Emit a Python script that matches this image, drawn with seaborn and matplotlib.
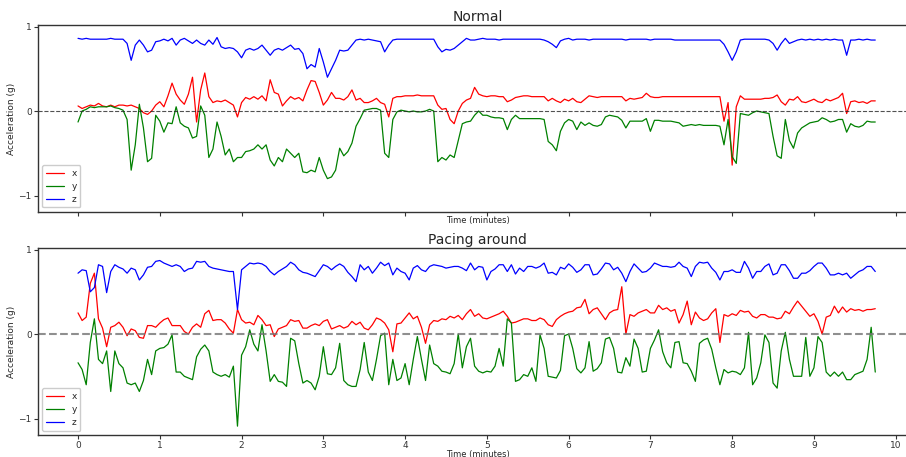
import numpy as np
import pandas as pd
import matplotlib
matplotlib.use("Agg")
import matplotlib.pyplot as plt
import seaborn as sns

# Sample times in minutes (one reading every 3 seconds)
time_min = np.round(np.arange(196) * 0.05, 2)

# ---- "Normal" session ----
x_normal = [
    0.06, 0.03, 0.05, 0.07, 0.06, 0.09, 0.06, 0.05, 0.07, 0.05,
    0.07, 0.07, 0.06, 0.07, 0.05, 0.03, -0.02, -0.04, 0.00, 0.07,
    0.11, 0.05, 0.18, 0.33, 0.20, 0.13, 0.08, 0.20, 0.40, -0.13,
    0.25, 0.45, 0.17, 0.10, 0.12, 0.11, 0.13, 0.10, 0.07, -0.07,
    0.10, 0.16, 0.14, 0.17, 0.14, 0.18, 0.12, 0.37, 0.22, 0.20,
    0.06, 0.12, 0.17, 0.14, 0.16, 0.12, 0.25, 0.36, 0.35, 0.22,
    0.07, 0.13, 0.22, 0.15, 0.15, 0.13, 0.17, 0.25, 0.13, 0.15,
    0.10, 0.10, 0.12, 0.15, 0.10, 0.08, -0.07, 0.15, 0.17, 0.17,
    0.18, 0.18, 0.18, 0.19, 0.18, 0.18, 0.18, 0.18, 0.07, 0.02,
    0.03, -0.10, -0.15, 0.00, 0.09, 0.13, 0.15, 0.28, 0.20, 0.18,
    0.17, 0.18, 0.18, 0.17, 0.17, 0.11, 0.13, 0.16, 0.17, 0.18,
    0.18, 0.17, 0.17, 0.17, 0.17, 0.12, 0.15, 0.12, 0.10, 0.14,
    0.12, 0.15, 0.11, 0.10, 0.14, 0.18, 0.17, 0.16, 0.17, 0.17,
    0.17, 0.17, 0.17, 0.17, 0.12, 0.15, 0.14, 0.15, 0.16, 0.21,
    0.17, 0.16, 0.16, 0.17, 0.17, 0.17, 0.17, 0.17, 0.17, 0.17,
    0.17, 0.17, 0.17, 0.17, 0.17, 0.17, 0.17, 0.17, -0.12, 0.10,
    -0.64, 0.05, 0.18, 0.14, 0.14, 0.14, 0.14, 0.14, 0.15, 0.15,
    0.16, 0.19, 0.11, 0.07, 0.14, 0.13, 0.17, 0.11, 0.10, 0.12,
    0.14, 0.11, 0.10, 0.14, 0.12, 0.14, 0.16, 0.21, -0.03, 0.11,
    0.12, 0.10, 0.11, 0.09, 0.12, 0.12,
]
y_normal = [
    -0.13, 0.00, 0.02, 0.05, 0.04, 0.05, 0.05, 0.05, 0.06, 0.04,
    0.03, 0.01, -0.10, -0.70, -0.40, 0.08, -0.20, -0.60, -0.56, -0.05,
    -0.12, -0.25, -0.14, -0.15, 0.05, -0.14, -0.18, -0.20, -0.32, -0.30,
    0.06, -0.05, -0.55, -0.45, -0.13, -0.30, -0.52, -0.45, -0.60, -0.55,
    -0.55, -0.48, -0.47, -0.45, -0.40, -0.45, -0.40, -0.58, -0.65, -0.55,
    -0.60, -0.45, -0.50, -0.55, -0.50, -0.72, -0.73, -0.70, -0.72, -0.55,
    -0.70, -0.80, -0.78, -0.70, -0.44, -0.53, -0.48, -0.38, -0.18, -0.09,
    0.01, 0.02, 0.03, 0.03, 0.01, -0.50, -0.55, -0.10, -0.01, 0.01,
    0.00, -0.01, 0.00, -0.01, -0.01, 0.00, 0.02, 0.00, -0.60, -0.55,
    -0.58, -0.52, -0.55, -0.35, -0.15, -0.13, -0.12, -0.05, 0.00, -0.05,
    -0.05, -0.07, -0.08, -0.08, -0.09, -0.22, -0.10, -0.05, -0.09, -0.09,
    -0.09, -0.09, -0.09, -0.09, -0.10, -0.36, -0.40, -0.47, -0.24, -0.14,
    -0.10, -0.12, -0.22, -0.13, -0.17, -0.14, -0.17, -0.18, -0.16, -0.07,
    -0.05, -0.06, -0.07, -0.11, -0.20, -0.12, -0.12, -0.12, -0.12, -0.09,
    -0.24, -0.11, -0.11, -0.12, -0.12, -0.12, -0.13, -0.14, -0.18, -0.17,
    -0.16, -0.17, -0.16, -0.17, -0.17, -0.17, -0.17, -0.18, -0.40, -0.10,
    -0.54, -0.62, -0.03, -0.04, -0.05, -0.02, 0.00, -0.01, -0.02, -0.03,
    -0.30, -0.53, -0.56, -0.10, -0.35, -0.44, -0.26, -0.20, -0.17, -0.14,
    -0.13, -0.12, -0.08, -0.10, -0.13, -0.12, -0.10, -0.10, -0.25, -0.15,
    -0.18, -0.19, -0.17, -0.12, -0.13, -0.13,
]
z_normal = [
    0.86, 0.85, 0.86, 0.85, 0.85, 0.85, 0.85, 0.85, 0.86, 0.85,
    0.85, 0.85, 0.80, 0.60, 0.78, 0.84, 0.78, 0.70, 0.72, 0.82,
    0.83, 0.85, 0.83, 0.86, 0.78, 0.84, 0.86, 0.83, 0.80, 0.84,
    0.80, 0.78, 0.84, 0.79, 0.87, 0.76, 0.74, 0.75, 0.74, 0.70,
    0.63, 0.72, 0.74, 0.72, 0.74, 0.78, 0.72, 0.66, 0.72, 0.74,
    0.72, 0.75, 0.78, 0.73, 0.74, 0.68, 0.50, 0.55, 0.52, 0.74,
    0.58, 0.40, 0.50, 0.60, 0.72, 0.71, 0.72, 0.78, 0.84, 0.85,
    0.84, 0.85, 0.84, 0.83, 0.82, 0.70, 0.78, 0.84, 0.85, 0.85,
    0.85, 0.85, 0.85, 0.85, 0.85, 0.85, 0.85, 0.85, 0.76, 0.70,
    0.73, 0.72, 0.74, 0.78, 0.82, 0.86, 0.84, 0.84, 0.85, 0.86,
    0.85, 0.85, 0.85, 0.84, 0.85, 0.85, 0.85, 0.85, 0.85, 0.85,
    0.85, 0.85, 0.85, 0.85, 0.84, 0.82, 0.79, 0.75, 0.83, 0.85,
    0.86, 0.84, 0.85, 0.85, 0.85, 0.84, 0.85, 0.85, 0.85, 0.85,
    0.85, 0.85, 0.85, 0.85, 0.84, 0.85, 0.85, 0.85, 0.85, 0.85,
    0.84, 0.85, 0.85, 0.85, 0.85, 0.85, 0.84, 0.84, 0.84, 0.84,
    0.84, 0.84, 0.84, 0.84, 0.84, 0.84, 0.84, 0.84, 0.79, 0.70,
    0.60, 0.70, 0.84, 0.85, 0.85, 0.85, 0.85, 0.85, 0.85, 0.84,
    0.80, 0.72, 0.80, 0.86, 0.80, 0.82, 0.84, 0.85, 0.84, 0.85,
    0.84, 0.85, 0.84, 0.85, 0.84, 0.85, 0.84, 0.84, 0.66, 0.84,
    0.84, 0.85, 0.84, 0.85, 0.84, 0.84,
]

# ---- "Pacing around" session ----
x_pacing = [
    0.25, 0.16, 0.20, 0.60, 0.72, 0.18, 0.07, -0.15, 0.08, 0.10,
    0.14, 0.08, -0.02, 0.06, 0.04, -0.04, -0.05, 0.10, 0.10, 0.08,
    0.13, 0.17, 0.19, 0.10, 0.10, 0.10, 0.03, 0.00, 0.08, 0.12,
    0.08, 0.24, 0.28, 0.16, 0.17, 0.17, 0.13, 0.06, 0.01, 0.29,
    0.17, 0.13, 0.14, 0.11, 0.22, 0.17, 0.10, 0.11, -0.03, 0.06,
    0.08, 0.10, 0.17, 0.15, 0.16, 0.07, 0.07, 0.10, 0.12, 0.10,
    0.15, 0.17, 0.06, 0.08, 0.10, 0.07, 0.09, 0.15, 0.11, 0.14,
    0.07, 0.05, 0.11, 0.19, 0.17, 0.13, 0.05, -0.21, 0.12, 0.13,
    0.19, 0.25, 0.18, 0.21, 0.08, -0.11, 0.11, 0.16, 0.15, 0.18,
    0.17, 0.21, 0.19, 0.22, 0.17, 0.24, 0.29, 0.21, 0.24, 0.19,
    0.18, 0.20, 0.22, 0.24, 0.27, 0.21, 0.13, 0.14, 0.16, 0.18,
    0.18, 0.16, 0.16, 0.19, 0.17, 0.11, 0.09, 0.17, 0.21, 0.24,
    0.26, 0.27, 0.31, 0.32, 0.41, 0.24, 0.29, 0.31, 0.24, 0.17,
    0.25, 0.28, 0.29, 0.56, 0.00, 0.23, 0.21, 0.25, 0.27, 0.29,
    0.25, 0.25, 0.34, 0.29, 0.31, 0.27, 0.29, 0.13, 0.23, 0.39,
    0.11, 0.26, 0.19, 0.16, 0.18, 0.25, 0.30, -0.10, 0.23, 0.21,
    0.24, 0.22, 0.28, 0.26, 0.27, 0.21, 0.19, 0.23, 0.23, 0.20,
    0.20, 0.18, 0.19, 0.27, 0.24, 0.32, 0.39, 0.33, 0.27, 0.21,
    0.24, 0.15, 0.00, 0.20, 0.22, 0.33, 0.25, 0.32, 0.26, 0.30,
    0.28, 0.29, 0.27, 0.29, 0.29, 0.30,
]
y_pacing = [
    -0.34, -0.42, -0.60, -0.10, 0.18, -0.30, -0.35, -0.20, -0.68, -0.20,
    -0.35, -0.40, -0.58, -0.60, -0.58, -0.68, -0.55, -0.30, -0.48, -0.20,
    -0.17, -0.16, -0.12, -0.01, -0.45, -0.45, -0.50, -0.52, -0.54, -0.27,
    -0.18, -0.13, -0.20, -0.45, -0.48, -0.50, -0.48, -0.51, -0.38, -1.09,
    -0.25, -0.15, 0.05, -0.12, -0.20, 0.11, -0.20, -0.56, -0.48, -0.56,
    -0.57, -0.62, -0.05, -0.08, -0.35, -0.58, -0.55, -0.58, -0.66, -0.50,
    -0.15, -0.47, -0.48, -0.40, -0.11, -0.55, -0.60, -0.62, -0.62, -0.42,
    -0.10, -0.45, -0.55, -0.30, -0.02, 0.01, -0.60, -0.30, -0.55, -0.52,
    -0.35, -0.60, -0.30, -0.03, -0.30, -0.55, -0.13, -0.35, -0.38, -0.44,
    -0.45, -0.47, -0.35, 0.00, -0.40, -0.15, -0.05, -0.38, -0.44, -0.46,
    -0.44, -0.45, -0.38, -0.17, -0.38, 0.18, 0.13, -0.56, -0.54, -0.48,
    -0.50, -0.40, -0.56, -0.01, -0.17, -0.50, -0.51, -0.52, -0.43, -0.02,
    0.00, -0.17, -0.41, -0.46, -0.40, -0.09, -0.44, -0.41, -0.34, -0.06,
    -0.04, -0.17, -0.45, -0.46, -0.28, -0.38, -0.06, -0.17, -0.45, -0.44,
    -0.17, -0.07, 0.05, -0.21, -0.34, -0.40, -0.10, -0.09, -0.34, -0.35,
    -0.44, -0.56, -0.11, -0.07, -0.05, -0.18, -0.40, -0.60, -0.42, -0.46,
    -0.44, -0.45, -0.48, -0.40, 0.02, -0.60, -0.52, -0.34, -0.01, -0.10,
    -0.58, -0.64, -0.20, 0.02, -0.30, -0.50, -0.50, -0.50, -0.04, -0.50,
    -0.40, -0.03, -0.10, -0.45, -0.50, -0.45, -0.50, -0.45, -0.54, -0.54,
    -0.48, -0.46, -0.44, -0.30, 0.08, -0.45,
]
z_pacing = [
    0.72, 0.76, 0.75, 0.50, 0.55, 0.82, 0.80, 0.49, 0.74, 0.82,
    0.79, 0.77, 0.72, 0.78, 0.76, 0.64, 0.70, 0.79, 0.80, 0.86,
    0.87, 0.84, 0.82, 0.80, 0.82, 0.80, 0.74, 0.77, 0.78, 0.86,
    0.85, 0.86, 0.80, 0.78, 0.77, 0.76, 0.75, 0.74, 0.74, 0.29,
    0.76, 0.80, 0.84, 0.83, 0.84, 0.83, 0.80, 0.74, 0.70, 0.74,
    0.77, 0.80, 0.85, 0.82, 0.76, 0.73, 0.72, 0.70, 0.68, 0.75,
    0.82, 0.80, 0.76, 0.80, 0.83, 0.80, 0.73, 0.68, 0.62, 0.82,
    0.76, 0.80, 0.72, 0.78, 0.85, 0.81, 0.84, 0.70, 0.78, 0.74,
    0.72, 0.64, 0.78, 0.81, 0.76, 0.74, 0.80, 0.82, 0.81, 0.80,
    0.78, 0.79, 0.80, 0.80, 0.78, 0.75, 0.84, 0.76, 0.80, 0.79,
    0.64, 0.74, 0.77, 0.82, 0.82, 0.74, 0.82, 0.71, 0.78, 0.74,
    0.80, 0.80, 0.78, 0.80, 0.84, 0.72, 0.73, 0.70, 0.79, 0.77,
    0.83, 0.79, 0.73, 0.76, 0.82, 0.82, 0.70, 0.71, 0.77, 0.84,
    0.83, 0.76, 0.79, 0.72, 0.62, 0.74, 0.83, 0.78, 0.73, 0.74,
    0.78, 0.84, 0.82, 0.80, 0.80, 0.79, 0.80, 0.85, 0.80, 0.78,
    0.68, 0.80, 0.85, 0.84, 0.85, 0.78, 0.73, 0.64, 0.74, 0.74,
    0.76, 0.73, 0.73, 0.86, 0.78, 0.66, 0.74, 0.74, 0.80, 0.83,
    0.70, 0.72, 0.82, 0.82, 0.75, 0.66, 0.66, 0.72, 0.72, 0.75,
    0.80, 0.84, 0.84, 0.78, 0.70, 0.70, 0.72, 0.70, 0.72, 0.66,
    0.70, 0.74, 0.76, 0.80, 0.80, 0.74,
]

axis_names = ["x", "y", "z"]
axis_colors = {"x": "red", "y": "green", "z": "blue"}
panels = [
    ("Normal", [x_normal, y_normal, z_normal]),
    ("Pacing around", [x_pacing, y_pacing, z_pacing]),
]

sns.set_style("ticks")
plt.rcParams.update({
    "font.family": ["DejaVu Sans"],
    "axes.edgecolor": "0.2",
    "axes.linewidth": 1.0,
    "xtick.color": "0.2",
    "ytick.color": "0.2",
    "xtick.major.size": 3,
    "ytick.major.size": 3,
})

fig = plt.figure(figsize=(9.06, 4.57), dpi=100)
ax_top = fig.add_axes([0.0419, 0.5361, 0.9702, 0.4092])
ax_bot = fig.add_axes([0.0419, 0.0481, 0.9702, 0.4092], sharex=ax_top, sharey=ax_top)

zero_styles = [
    dict(color="0.15", lw=0.8, ls="--", alpha=0.8),
    dict(color="0.45", lw=1.5, ls="--", alpha=0.8),
]

for ax, (title, series), zstyle in zip([ax_top, ax_bot], panels, zero_styles):
    frames = []
    for name, values in zip(axis_names, series):
        frames.append(pd.DataFrame({"time": time_min, "accel": values, "axis": name}))
    df = pd.concat(frames, ignore_index=True)

    sns.lineplot(data=df, x="time", y="accel", hue="axis", palette=axis_colors,
                 estimator=None, sort=False, lw=0.9, ax=ax)
    ax.axhline(0, **zstyle)

    handles, labels = ax.get_legend_handles_labels()
    ax.legend(handles, labels, loc="lower left", fontsize=6.5, labelspacing=0.45,
              handlelength=2.0, frameon=True, framealpha=1.0, edgecolor="0.8",
              borderpad=0.4)

    ax.set_title(title, fontsize=10, pad=3)
    ax.set_xlabel("Time (minutes)", fontsize=6, labelpad=0)
    ax.set_ylabel("Acceleration (g)", fontsize=6.5, labelpad=2)
    ax.tick_params(axis="x", labelsize=6.5, width=0.8, pad=1)
    ax.tick_params(axis="y", labelsize=6.5, width=0.8, pad=1.5)
    ax.spines["right"].set_visible(False)

ax_top.set_xlim(-0.49, 10.26)
ax_top.set_ylim(-1.195, 1.018)
ax_top.set_xticks(range(0, 11))
ax_top.set_yticks([-1, 0, 1])
ax_top.tick_params(labelbottom=False)

fig.savefig("out.png", dpi=100)
